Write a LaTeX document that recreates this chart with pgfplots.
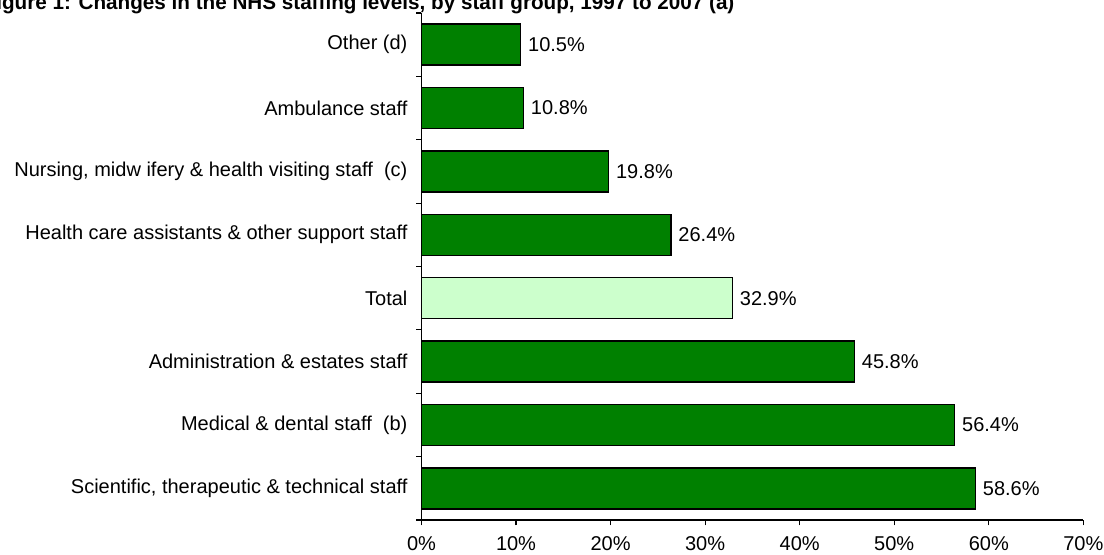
\documentclass[border=0pt]{standalone}
\usepackage{pgfplots}
\pgfplotsset{compat=1.18}
\usepackage{fontspec}
\setmainfont{Liberation Sans}
\definecolor{bargreen}{RGB}{0,128,0}
\definecolor{totalgreen}{RGB}{204,255,204}
\begin{document}
\begin{tikzpicture}
\useasboundingbox (0,0) rectangle (828pt,415.5pt);
\clip (0,0) rectangle (828pt,415.5pt);
\node[anchor=base east, font=\fontsize{15.5}{18}\selectfont\bfseries, inner sep=0pt] at (551pt,408.3pt) {Figure 1: Changes in the NHS staffing levels, by staff group, 1997 to 2007 (a)};
\begin{axis}[
  at={(316.1pt,25.5pt)}, anchor=south west,
  scale only axis, width=496.4pt, height=380.25pt,
  xbar, bar width=30.75pt, bar shift=0pt,
  xmin=0, xmax=70, ymin=-0.5, ymax=7.5,
  axis x line*=bottom, axis y line*=left,
  axis line style={black, line width=0.8pt},
  tick align=outside, major tick length=4pt, minor tick length=4pt,
  tick style={black, line width=0.8pt},
  xtick={0,10,...,70},
  xticklabels={0\%,10\%,20\%,30\%,40\%,50\%,60\%,70\%},
  xticklabel style={yshift=-5pt},
  ytick={0,...,7},
  minor ytick={-0.5,0.5,...,7.5},
  every major y tick/.append style={draw=none},
  yticklabels={{Scientific, therapeutic \& technical staff},{Medical \& dental staff\ \ (b)},{Administration \& estates staff},{Total},{Health care assistants \& other support staff},{Nursing, midw ifery \& health visiting staff\ \ (c)},{Ambulance staff},{Other (d)}},
  yticklabel style={xshift=-3pt},
  ticklabel style={font=\fontsize{15}{17}\selectfont, text=black},
  point meta=x,
  nodes near coords={\pgfmathprintnumber[fixed,fixed zerofill,precision=1,assume math mode=true]{\pgfplotspointmeta}\%},
  every node near coord/.append style={font=\fontsize{15}{17}\selectfont, anchor=west, inner sep=5pt, text=black},
  clip=false,
]
\addplot[fill=bargreen, draw=black, line width=1.1pt] coordinates {
  (58.6,0) (56.4,1) (45.8,2) (26.4,4) (19.8,5) (10.8,6) (10.5,7)
};
\addplot[fill=totalgreen, draw=black, line width=1.1pt] coordinates {
  (32.9,3)
};
\end{axis}
\end{tikzpicture}
\end{document}
